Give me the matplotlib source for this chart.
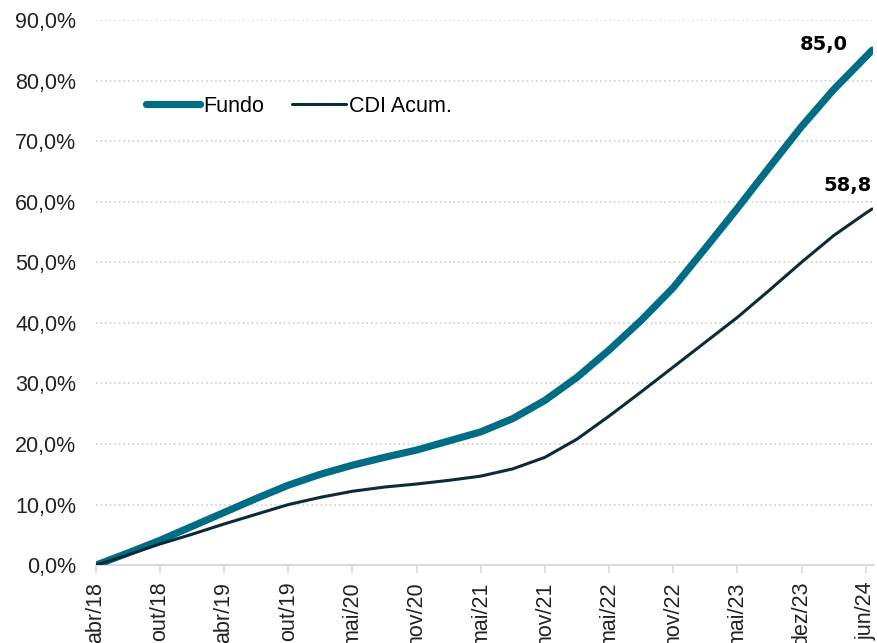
import matplotlib
matplotlib.use("Agg")

import matplotlib.pyplot as plt
from matplotlib.ticker import FuncFormatter

# ---------------------------
# DATA
# ---------------------------

TICK_LABELS = ["abr/18", "out/18", "abr/19", "out/19", "mai/20", "nov/20", "mai/21",
               "nov/21", "mai/22", "nov/22", "mai/23", "dez/23", "jun/24"]

# position along the axis, in tick units (0 = abr/18, 12 = jun/24)
X_POS = [0, 0.5, 1, 1.5, 2, 2.5, 3, 3.5, 4, 4.5, 5, 5.5, 6, 6.5,
         7, 7.5, 8, 8.5, 9, 9.5, 10, 10.5, 11, 11.5, 12, 12.1]

FUNDO = [0.0, 2.0, 4.1, 6.4, 8.7, 11.0, 13.2, 15.0, 16.5, 17.8, 19.0, 20.5, 22.0, 24.2,
         27.2, 31.0, 35.5, 40.4, 45.8, 52.3, 58.9, 65.7, 72.4, 78.5, 83.9, 85.0]

CDI = [0.0, 1.7, 3.5, 5.1, 6.8, 8.4, 10.0, 11.2, 12.2, 12.9, 13.4, 14.0, 14.7, 15.9,
       17.8, 20.8, 24.6, 28.6, 32.7, 36.8, 40.9, 45.4, 50.0, 54.4, 58.1, 58.8]

# ---------------------------
# PLOT
# ---------------------------

plt.rcParams["font.family"] = ["Liberation Sans", "DejaVu Sans"]

fig = plt.figure(figsize=(8.78, 6.43), dpi=100)
ax = fig.add_axes([0.109, 0.121, 0.885, 0.848])

ax.plot(X_POS, FUNDO, color="#006d85", linewidth=5.2, solid_capstyle="round",
        solid_joinstyle="round", label="Fundo", zorder=3)
ax.plot(X_POS, CDI, color="#0b2a3a", linewidth=2.2, solid_capstyle="round",
        solid_joinstyle="round", label="CDI Acum.", zorder=4)

# end labels
ax.annotate(f"{FUNDO[-1]:.1f}".replace(".", ","), (X_POS[-1], FUNDO[-1]),
            xytext=(-35, 4), textcoords="offset points", ha="center", va="center",
            fontsize=14, family=["DejaVu Sans"], fontweight="bold", color="black")
ax.annotate(f"{CDI[-1]:.1f}".replace(".", ","), (X_POS[-1], CDI[-1]),
            xytext=(-18, 17), textcoords="offset points", ha="center", va="center",
            fontsize=14, family=["DejaVu Sans"], fontweight="bold", color="black")

ax.set_xlim(0, 12.11)
ax.set_ylim(0, 90)

ax.set_yticks(range(0, 91, 10))
ax.yaxis.set_major_formatter(FuncFormatter(lambda v, p: f"{v:.1f}%".replace(".", ",")))
ax.set_xticks(range(len(TICK_LABELS)))
ax.set_xticklabels(TICK_LABELS, rotation=90, va="top", ha="center")

ax.tick_params(axis="y", length=0, pad=14, labelsize=15.5, labelcolor="#222222")
ax.tick_params(axis="x", length=6, width=1.2, color="#d9d9d9", pad=6,
               labelsize=15.5, labelcolor="#222222")

ax.grid(axis="y", linestyle=(0, (1, 2)), color="#c8c8c8", linewidth=1.1)
ax.set_axisbelow(True)

for s in ["top", "right", "left"]:
    ax.spines[s].set_visible(False)
ax.spines["bottom"].set_color("#d9d9d9")
ax.spines["bottom"].set_linewidth(1.5)

ax.legend(loc="center left", bbox_to_anchor=(0.054, 0.842), ncol=2, frameon=False,
          fontsize=15.5, handlelength=2.5, handletextpad=0.15, columnspacing=1.3,
          borderaxespad=0)

fig.savefig("out.png", dpi=100)
